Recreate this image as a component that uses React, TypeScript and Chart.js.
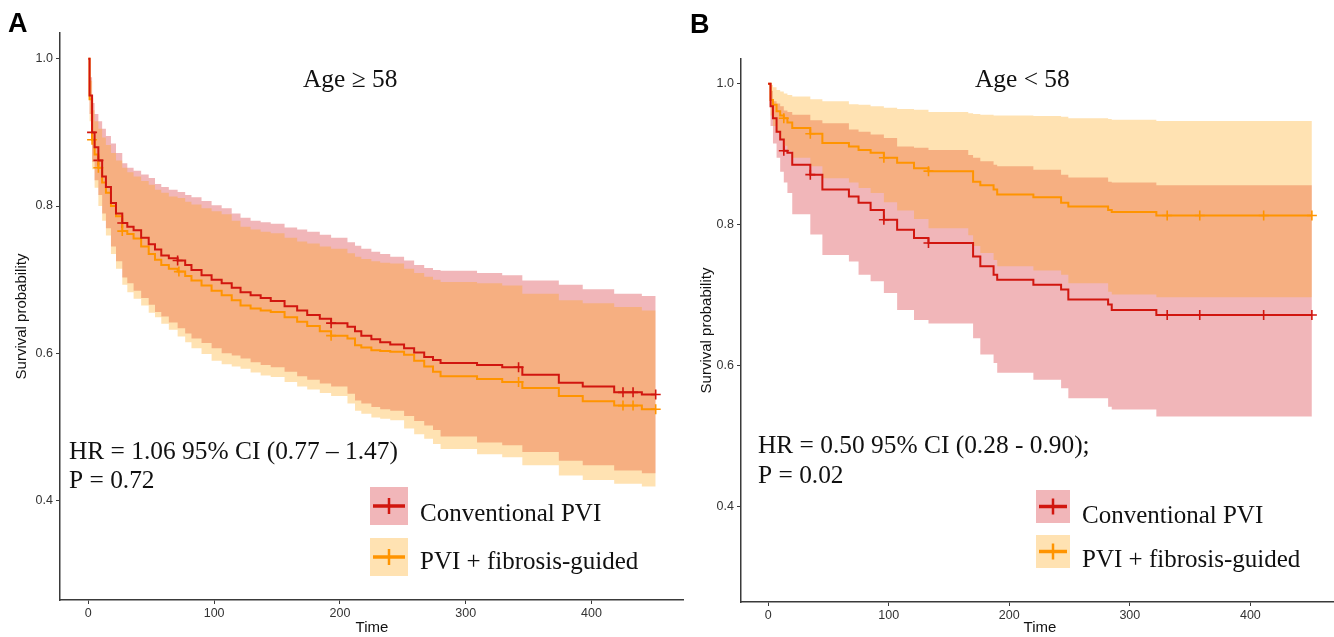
import React, { useEffect, useRef } from "react";
import { Chart, registerables } from "chart.js";
Chart.register(...registerables);

// ---------- DATA ----------
const xTicks = [0, 100, 200, 300, 400];
const yTicks = [0.4, 0.6, 0.8, 1.0];
const legendLabels = ["Conventional PVI", "PVI + fibrosis-guided"];

// Panel A: Age >= 58
const timesA = [0, 1, 3, 5, 8, 11, 14, 18, 22, 27, 31, 36, 42, 48, 53, 58, 64, 71, 77, 82, 90, 98, 106, 114, 121, 129, 137, 145, 156, 166, 174, 184, 193, 206, 212, 217, 225, 232, 240, 251, 259, 267, 274, 280, 309, 329, 345, 374, 393, 418, 440, 451];
const convSurvA = [1.0, 0.95, 0.9, 0.88, 0.862, 0.84, 0.826, 0.804, 0.79, 0.777, 0.772, 0.767, 0.757, 0.748, 0.741, 0.733, 0.729, 0.726, 0.72, 0.713, 0.706, 0.7, 0.695, 0.689, 0.683, 0.679, 0.675, 0.671, 0.664, 0.658, 0.652, 0.647, 0.641, 0.636, 0.63, 0.624, 0.619, 0.615, 0.612, 0.607, 0.601, 0.595, 0.591, 0.587, 0.584, 0.581, 0.571, 0.56, 0.555, 0.547, 0.544, 0.544];
const convUpperA = [1.0, 0.975, 0.94, 0.925, 0.915, 0.905, 0.895, 0.885, 0.872, 0.858, 0.852, 0.848, 0.843, 0.838, 0.83, 0.826, 0.822, 0.819, 0.815, 0.812, 0.807, 0.801, 0.797, 0.79, 0.784, 0.78, 0.778, 0.776, 0.771, 0.768, 0.765, 0.761, 0.757, 0.751, 0.746, 0.742, 0.738, 0.735, 0.731, 0.726, 0.72, 0.716, 0.713, 0.712, 0.709, 0.706, 0.699, 0.693, 0.687, 0.681, 0.678, 0.678];
const convLowerA = [1.0, 0.925, 0.86, 0.835, 0.815, 0.79, 0.77, 0.745, 0.725, 0.703, 0.695, 0.685, 0.675, 0.666, 0.656, 0.65, 0.642, 0.634, 0.627, 0.62, 0.614, 0.607, 0.6, 0.597, 0.593, 0.588, 0.584, 0.581, 0.575, 0.569, 0.564, 0.559, 0.555, 0.545, 0.536, 0.532, 0.527, 0.524, 0.522, 0.515, 0.508, 0.502, 0.496, 0.487, 0.479, 0.475, 0.466, 0.454, 0.448, 0.441, 0.437, 0.437];
const fibSurvA = [1.0, 0.945, 0.89, 0.87, 0.852, 0.832, 0.818, 0.8, 0.786, 0.766, 0.762, 0.756, 0.745, 0.735, 0.727, 0.72, 0.715, 0.711, 0.705, 0.699, 0.692, 0.685, 0.679, 0.672, 0.665, 0.661, 0.658, 0.656, 0.649, 0.643, 0.637, 0.63, 0.624, 0.62, 0.611, 0.608, 0.604, 0.603, 0.602, 0.598, 0.59, 0.582, 0.575, 0.569, 0.565, 0.561, 0.553, 0.542, 0.535, 0.529, 0.524, 0.524];
const fibUpperA = [1.0, 0.97, 0.93, 0.915, 0.905, 0.893, 0.883, 0.872, 0.862, 0.852, 0.846, 0.84, 0.834, 0.829, 0.822, 0.818, 0.813, 0.811, 0.806, 0.802, 0.797, 0.793, 0.789, 0.78, 0.772, 0.768, 0.765, 0.763, 0.757, 0.752, 0.749, 0.745, 0.742, 0.736, 0.731, 0.728, 0.725, 0.723, 0.722, 0.715, 0.709, 0.704, 0.7, 0.697, 0.695, 0.692, 0.681, 0.672, 0.668, 0.663, 0.658, 0.658];
const fibLowerA = [1.0, 0.915, 0.85, 0.825, 0.8, 0.78, 0.76, 0.735, 0.715, 0.693, 0.683, 0.674, 0.665, 0.655, 0.649, 0.64, 0.632, 0.623, 0.615, 0.607, 0.599, 0.59, 0.585, 0.582, 0.579, 0.574, 0.57, 0.568, 0.561, 0.555, 0.551, 0.546, 0.542, 0.532, 0.522, 0.518, 0.513, 0.511, 0.509, 0.498, 0.49, 0.484, 0.477, 0.47, 0.463, 0.459, 0.448, 0.434, 0.428, 0.423, 0.419, 0.419];
const convCensorA = [3, 8, 27, 71, 193, 342, 425, 433, 451];
const fibCensorA = [3, 8, 27, 72, 193, 342, 425, 433, 451];

// Panel B: Age < 58
const timesB = [0, 2, 4, 7, 10, 13, 16, 20, 35, 45, 67, 75, 85, 96, 107, 121, 133, 166, 170, 176, 187, 190, 220, 243, 249, 282, 285, 322, 451];
const convSurvB = [1.0, 0.968, 0.951, 0.932, 0.921, 0.905, 0.902, 0.885, 0.871, 0.85, 0.84, 0.831, 0.821, 0.807, 0.793, 0.781, 0.774, 0.774, 0.755, 0.741, 0.729, 0.722, 0.715, 0.708, 0.694, 0.687, 0.679, 0.672, 0.672];
const convUpperB = [1.0, 0.99, 0.975, 0.972, 0.968, 0.962, 0.96, 0.956, 0.948, 0.944, 0.935, 0.932, 0.928, 0.923, 0.911, 0.909, 0.906, 0.899, 0.895, 0.89, 0.885, 0.883, 0.878, 0.871, 0.867, 0.861, 0.86, 0.856, 0.856];
const convLowerB = [1.0, 0.94, 0.915, 0.895, 0.875, 0.86, 0.845, 0.815, 0.786, 0.757, 0.748, 0.729, 0.72, 0.703, 0.679, 0.665, 0.66, 0.66, 0.639, 0.616, 0.604, 0.59, 0.58, 0.568, 0.554, 0.542, 0.538, 0.528, 0.528];
const fibSurvB = [1.0, 0.977, 0.97, 0.961, 0.955, 0.951, 0.945, 0.937, 0.929, 0.916, 0.911, 0.906, 0.902, 0.895, 0.888, 0.88, 0.876, 0.876, 0.861, 0.856, 0.85, 0.843, 0.839, 0.831, 0.826, 0.821, 0.818, 0.813, 0.813];
const fibUpperB = [1.0, 0.998, 0.995, 0.991, 0.989, 0.986, 0.984, 0.982, 0.978, 0.975, 0.971, 0.97, 0.968, 0.966, 0.964, 0.963, 0.96, 0.958, 0.957, 0.956, 0.955, 0.955, 0.954, 0.953, 0.951, 0.95, 0.949, 0.947, 0.947];
const fibLowerB = [1.0, 0.955, 0.94, 0.93, 0.92, 0.912, 0.905, 0.895, 0.883, 0.866, 0.86, 0.852, 0.845, 0.832, 0.82, 0.808, 0.795, 0.785, 0.77, 0.76, 0.75, 0.741, 0.735, 0.729, 0.717, 0.705, 0.701, 0.697, 0.697];
const convCensorB = [13, 35, 96, 133, 331, 358, 411, 451];
const fibCensorB = [13, 35, 96, 133, 331, 358, 411, 451];

// ---------- STYLE ----------
const RED = "#D1160F";
const ORANGE = "#FF9400";
const RED_BAND = "rgba(210,12,22,0.3)";
const ORANGE_BAND = "rgba(255,158,0,0.3)";
const SANS = "'Liberation Sans', Arial, sans-serif";
const SERIF = "'Liberation Serif', 'Times New Roman', serif";
const AXIS = "#3a3a3a";

function stepAt(times: number[], vals: number[], t: number) {
  let v = vals[0];
  for (let i = 0; i < times.length; i++) if (times[i] <= t) v = vals[i];
  return v;
}
const pts = (times: number[], vals: number[]) => times.map((t, i) => ({ x: t, y: vals[i] }));

type Layout = {
  width: number; yAxisWidth: number; top: number; xAxisHeight: number; yTitlePad: number;
  letter: string; letterX: number; letterY: number;
  title: string; titleX: number; titleY: number;
  hr: string; p: string; hrX: number; hrY: number; pY: number;
  legX: number; legW: number; legH: number; legY1: number; legY2: number;
  legTextX: number; legTextY1: number; legTextY2: number;
};

type Series = {
  times: number[]; conv: number[]; convUp: number[]; convLo: number[];
  fib: number[]; fibUp: number[]; fibLo: number[]; convCens: number[]; fibCens: number[];
};

function makeAnnot(L: Layout) {
  return {
    id: "annot" + L.letter,
    afterDraw(chart: any) {
      const ctx = chart.ctx as CanvasRenderingContext2D;
      ctx.save();
      ctx.fillStyle = "#000";
      ctx.textAlign = "left";
      ctx.textBaseline = "alphabetic";
      ctx.font = `bold 27px ${SANS}`;
      ctx.fillText(L.letter, L.letterX, L.letterY);
      ctx.font = `25.4px ${SERIF}`;
      ctx.fillStyle = "#111";
      ctx.fillText(L.title, L.titleX, L.titleY);
      ctx.fillText(L.hr, L.hrX, L.hrY);
      ctx.fillText(L.p, L.hrX, L.pY);
      const items = [
        { y: L.legY1, band: RED_BAND, col: RED, text: legendLabels[0], ty: L.legTextY1 },
        { y: L.legY2, band: ORANGE_BAND, col: ORANGE, text: legendLabels[1], ty: L.legTextY2 },
      ];
      for (const it of items) {
        ctx.fillStyle = it.band;
        ctx.fillRect(L.legX, it.y, L.legW, L.legH);
        const cy = it.y + L.legH / 2;
        const cx = L.legX + L.legW / 2;
        ctx.strokeStyle = it.col;
        ctx.lineWidth = 3.5;
        ctx.beginPath();
        ctx.moveTo(L.legX + 3, cy);
        ctx.lineTo(L.legX + L.legW - 3, cy);
        ctx.stroke();
        ctx.lineWidth = 2.5;
        ctx.beginPath();
        ctx.moveTo(cx, cy - 8);
        ctx.lineTo(cx, cy + 8);
        ctx.stroke();
        ctx.fillStyle = "#111";
        ctx.font = `25px ${SERIF}`;
        ctx.fillText(it.text, L.legTextX, it.ty);
      }
      ctx.restore();
    },
  };
}

function buildChart(canvas: HTMLCanvasElement, S: Series, L: Layout) {
  const lineDs = (label: string, vals: number[], color: string) => ({
    label, data: pts(S.times, vals), borderColor: color, borderWidth: 2, stepped: "before" as const,
    pointRadius: 0, pointHoverRadius: 0, fill: false,
  });
  const censDs = (label: string, cens: number[], vals: number[], color: string) => ({
    label, data: cens.map((t) => ({ x: t, y: stepAt(S.times, vals, t) })), showLine: false,
    pointStyle: "cross" as const, pointRadius: 5, pointHoverRadius: 0, pointBorderWidth: 1.6,
    borderColor: color, pointBorderColor: color, backgroundColor: color, fill: false,
  });
  const bandDs = (label: string, vals: number[], fill: any, bg: string) => ({
    label, data: pts(S.times, vals), borderWidth: 0, borderColor: "rgba(0,0,0,0)", stepped: "before" as const,
    pointRadius: 0, pointHoverRadius: 0, fill, backgroundColor: bg,
  });
  const datasets: any[] = [
    lineDs("conv", S.conv, RED),
    lineDs("fib", S.fib, ORANGE),
    censDs("convC", S.convCens, S.conv, RED),
    censDs("fibC", S.fibCens, S.fib, ORANGE),
    bandDs("fibUp", S.fibUp, "+1", ORANGE_BAND),
    bandDs("fibLo", S.fibLo, false, ORANGE_BAND),
    bandDs("convUp", S.convUp, "+1", RED_BAND),
    bandDs("convLo", S.convLo, false, RED_BAND),
  ];
  return new Chart(canvas, {
    type: "line",
    data: { datasets },
    plugins: [makeAnnot(L)],
    options: {
      animation: false,
      responsive: false,
      devicePixelRatio: 1,
      events: [],
      layout: { autoPadding: false, padding: { top: L.top, left: 0, right: 0, bottom: 0 } },
      plugins: { legend: { display: false }, tooltip: { enabled: false } },
      scales: {
        x: {
          type: "linear", min: -22.5, max: 473.5,
          afterBuildTicks: (s: any) => { s.ticks = xTicks.map((v) => ({ value: v })); },
          afterFit: (s: any) => { s.height = L.xAxisHeight; },
          ticks: { font: { family: SANS, size: 12.5 }, color: "#333", padding: 2, maxRotation: 0, callback: (v: any) => String(v) },
          grid: { drawOnChartArea: false, drawTicks: true, tickLength: 4, color: AXIS, tickWidth: 1 },
          border: { display: true, color: AXIS, width: 1.5 },
          title: { display: true, text: "Time", font: { family: SANS, size: 15 }, color: "#111", padding: { top: 0, bottom: 0 } },
        },
        y: {
          type: "linear", min: 0.265, max: 1.035,
          afterBuildTicks: (s: any) => { s.ticks = yTicks.map((v) => ({ value: v })); },
          afterFit: (s: any) => { s.width = L.yAxisWidth; },
          ticks: { font: { family: SANS, size: 12.5 }, color: "#333", padding: 3, callback: (v: any) => Number(v).toFixed(1) },
          grid: { drawOnChartArea: false, drawTicks: true, tickLength: 4, color: AXIS, tickWidth: 1 },
          border: { display: true, color: AXIS, width: 1.5 },
          title: { display: true, text: "Survival probability", font: { family: SANS, size: 15 }, color: "#111", padding: { top: L.yTitlePad, bottom: 0 } },
        },
      },
    } as any,
  });
}

const seriesA: Series = { times: timesA, conv: convSurvA, convUp: convUpperA, convLo: convLowerA, fib: fibSurvA, fibUp: fibUpperA, fibLo: fibLowerA, convCens: convCensorA, fibCens: fibCensorA };
const seriesB: Series = { times: timesB, conv: convSurvB, convUp: convUpperB, convLo: convLowerB, fib: fibSurvB, fibUp: fibUpperB, fibLo: fibLowerB, convCens: convCensorB, fibCens: fibCensorB };

const layoutA: Layout = {
  width: 684, yAxisWidth: 60, top: 33, xAxisHeight: 37, yTitlePad: 13,
  letter: "A", letterX: 8, letterY: 32,
  title: "Age ≥ 58", titleX: 303, titleY: 87,
  hr: "HR = 1.06 95% CI (0.77 – 1.47)", p: "P = 0.72", hrX: 69, hrY: 459, pY: 488,
  legX: 370, legW: 38, legH: 38, legY1: 487, legY2: 538, legTextX: 420, legTextY1: 521, legTextY2: 569,
};
const layoutB: Layout = {
  width: 659, yAxisWidth: 61, top: 59, xAxisHeight: 35, yTitlePad: 18,
  letter: "B", letterX: 10, letterY: 33,
  title: "Age < 58", titleX: 295, titleY: 87,
  hr: "HR = 0.50 95% CI (0.28 - 0.90);", p: "P = 0.02", hrX: 78, hrY: 453, pY: 483,
  legX: 356, legW: 34, legH: 33, legY1: 490, legY2: 535, legTextX: 402, legTextY1: 522.5, legTextY2: 566.5,
};

export default function App() {
  const refA = useRef<HTMLCanvasElement>(null);
  const refB = useRef<HTMLCanvasElement>(null);
  useEffect(() => {
    const a = buildChart(refA.current!, seriesA, layoutA);
    const b = buildChart(refB.current!, seriesB, layoutB);
    return () => { a.destroy(); b.destroy(); };
  }, []);
  return (
    <div style={{ position: "fixed", left: 0, top: 0, width: 1334, height: 637, overflow: "hidden", background: "#fff" }}>
      <canvas ref={refA} width={layoutA.width} height={637} style={{ position: "absolute", left: 0, top: 0, width: layoutA.width, height: 637 }} />
      <canvas ref={refB} width={layoutB.width} height={637} style={{ position: "absolute", left: 680, top: 0, width: layoutB.width, height: 637 }} />
    </div>
  );
}
